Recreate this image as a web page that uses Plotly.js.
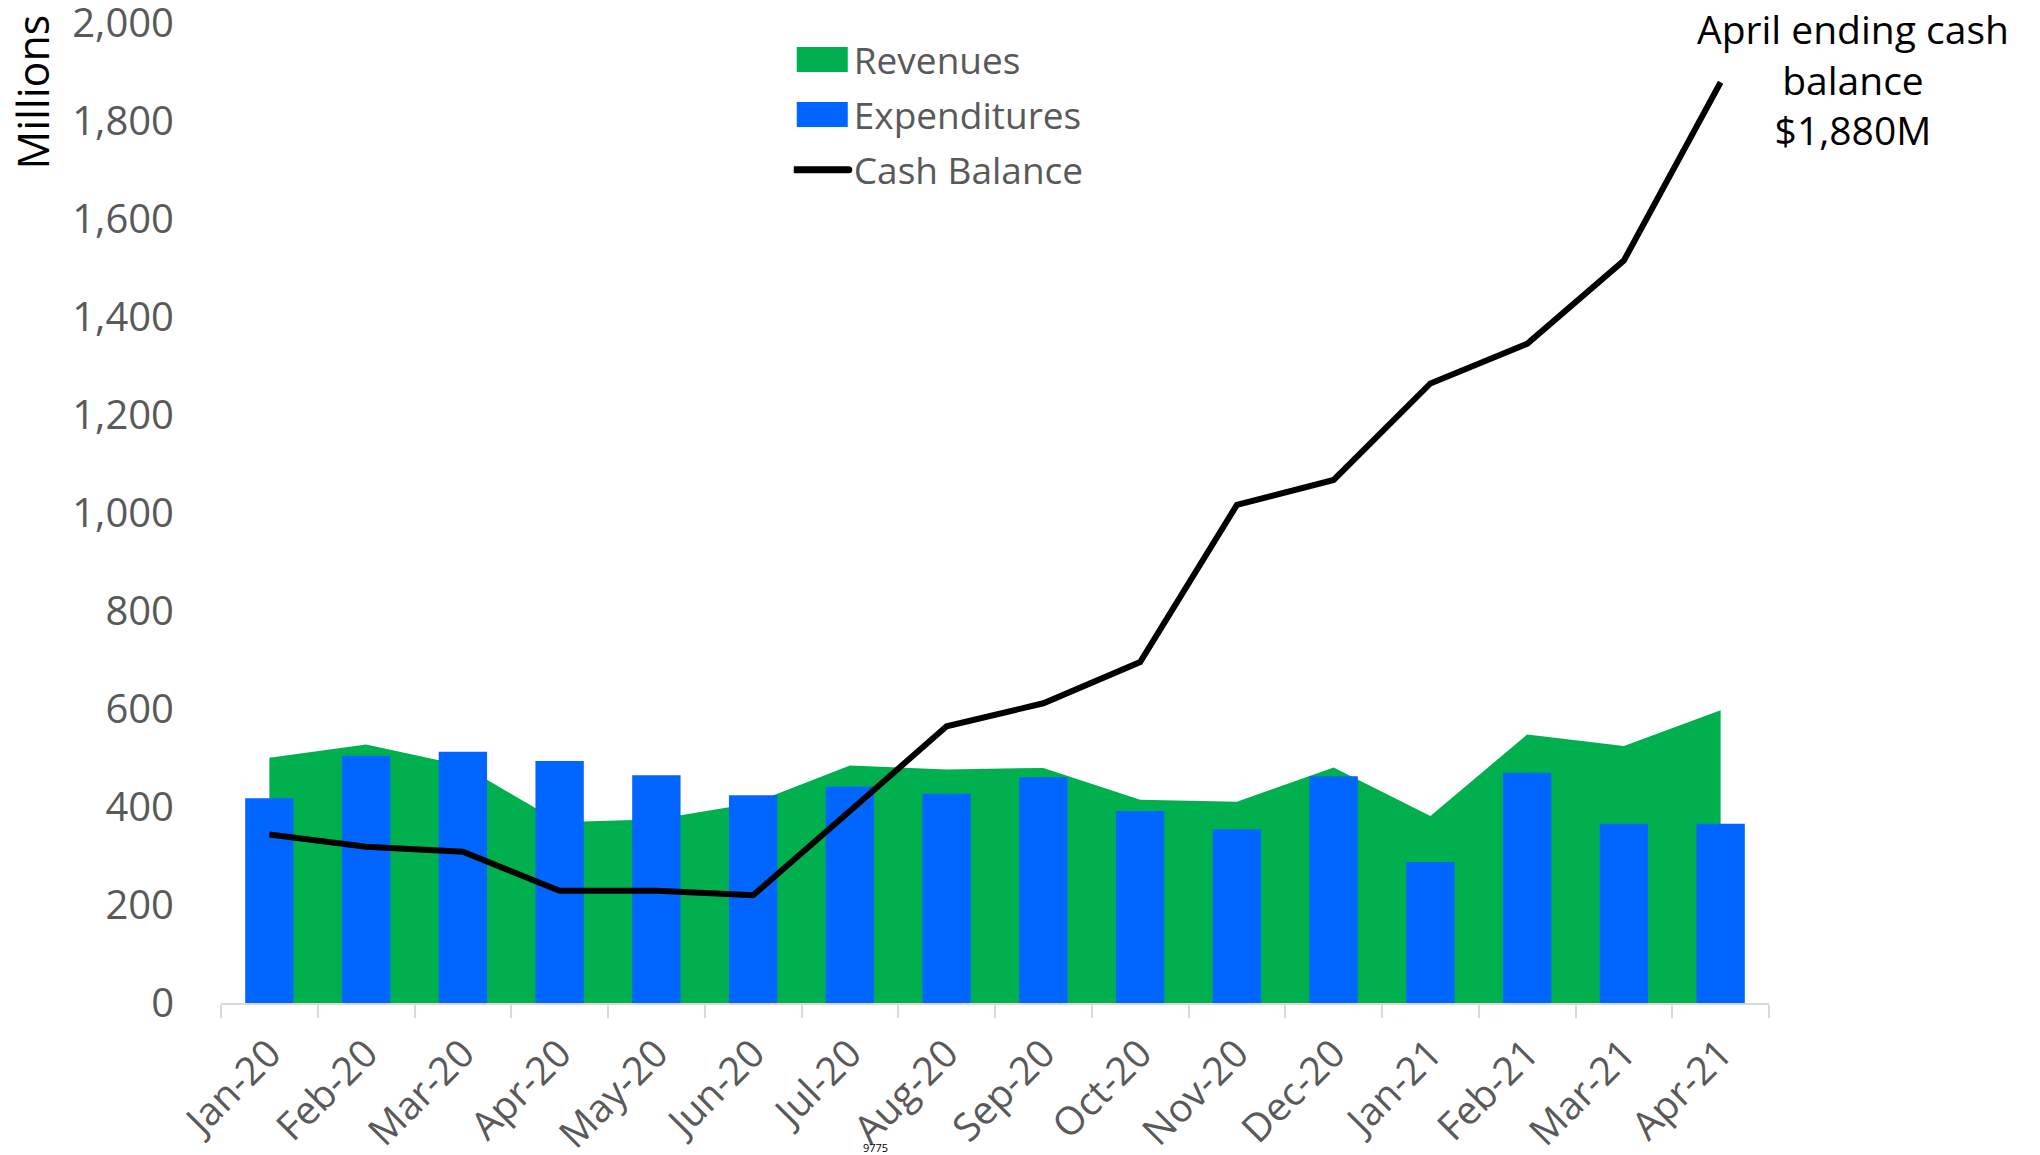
<!DOCTYPE html>
<html>
<head>
<meta charset="utf-8">
<script src="https://cdn.plot.ly/plotly-3.0.1.min.js"></script>
<style>
html,body{margin:0;padding:0;background:#fff;}
#chart{width:2040px;height:1155px;}
</style>
</head>
<body>
<div id="chart"></div>
<script>
const months = ["Jan-20","Feb-20","Mar-20","Apr-20","May-20","Jun-20","Jul-20","Aug-20","Sep-20","Oct-20","Nov-20","Dec-20","Jan-21","Feb-21","Mar-21","Apr-21"];
const revenues = [501, 528, 485, 369, 375, 408, 485, 477, 480, 415, 411, 481, 382, 548, 525, 598];
const expenditures = [418, 505, 513, 494, 465, 424, 442, 427, 461, 392, 355, 463, 288, 470, 366, 366];
const cashBalance = [344, 319, 309, 229, 229, 220, 392, 565, 612, 696, 1017, 1068, 1265, 1346, 1516, 1880];
const yTicks = [0, 200, 400, 600, 800, 1000, 1200, 1400, 1600, 1800, 2000];
const yTickText = ["0","200","400","600","800","1,000","1,200","1,400","1,600","1,800","2,000"];

const FONT = "'Open Sans', 'Noto Sans', sans-serif";
const GREY = "#595959";
const GREEN = "#00B04F";
const BLUE = "#0066FF";

const data = [
  {type:"scatter", x:months, y:revenues, name:"Revenues", mode:"lines",
   fill:"tozeroy", fillcolor:GREEN, line:{width:0, color:GREEN},
   xaxis:"x", yaxis:"y", legendgroup:"a", legendrank:1},
  {type:"bar", x:months, y:expenditures, name:"Expenditures",
   marker:{color:BLUE, line:{width:0}},
   xaxis:"x2", yaxis:"y2", legendgroup:"b", legendrank:2},
  {type:"scatter", x:months, y:cashBalance, name:"Cash Balance", mode:"lines",
   line:{color:"#000000", width:6},
   xaxis:"x2", yaxis:"y2", legendgroup:"c", legendrank:3}
];

const layout = {
  width:2040, height:1155,
  margin:{l:221, r:271, t:23, b:152},
  paper_bgcolor:"#ffffff", plot_bgcolor:"rgba(0,0,0,0)",
  showlegend:true,
  bargap:0.5,
  font:{family:FONT, color:GREY},
  xaxis:{type:"category", categoryorder:"array", categoryarray:months,
    range:[-0.5, 15.5], showgrid:false, zeroline:false,
    showline:true, linecolor:"#d9d9d9", linewidth:2,
    ticks:"outside", tickson:"boundaries", ticklen:13, tickcolor:"#d9d9d9", tickwidth:2,
    tickangle:-45, tickfont:{family:FONT, size:39, color:GREY}, ticklabelstandoff:10},
  xaxis2:{type:"category", categoryorder:"array", categoryarray:months,
    range:[-0.5, 15.5], overlaying:"x", visible:false},
  yaxis:{range:[0,2001], tickvals:yTicks, ticktext:yTickText, showgrid:false,
    zeroline:false, showline:false, ticks:"", ticklabelstandoff:46,
    ticklabeloverflow:"allow",
    tickfont:{family:FONT, size:40, color:GREY}},
  yaxis2:{range:[0,2001], overlaying:"y", visible:false},
  legend:{x:0.37, y:0.994, xanchor:"left", yanchor:"top",
    font:{family:FONT, size:37, color:GREY}, bgcolor:"rgba(0,0,0,0)",
    traceorder:"grouped", tracegroupgap:4, itemwidth:50},
  annotations:[
    {text:"April ending cash<br>balance<br>$1,880M", xref:"paper", yref:"paper",
     x:1.054, y:1.0235, xanchor:"center", yanchor:"top", showarrow:false,
     font:{family:FONT, size:39, color:"#000000"}, align:"center"},
    {text:"Millions", xref:"paper", yref:"paper", x:-0.1215, y:0.93,
     xanchor:"center", yanchor:"middle", textangle:-90, showarrow:false,
     font:{family:FONT, size:43, color:"#000000"}},
    {text:"9775", xref:"paper", yref:"paper", x:0.423, y:-0.138,
     xanchor:"center", yanchor:"top", showarrow:false,
     font:{family:FONT, size:11, color:"#000000"}}
  ]
};

Plotly.newPlot("chart", data, layout, {displayModeBar:false, staticPlot:true}).then(function(gd){
  // enlarge legend swatches to match reference look
  const groups = gd.querySelectorAll('.legend .traces');
  groups.forEach(function(g, i){
    const fill = g.querySelector('.legendfill path');
    const bar = g.querySelector('.legendpoints path');
    const line = g.querySelector('.legendlines path');
    if (i === 0 && fill) {
      fill.setAttribute('d', 'M3,-12.5h51v25h-51z');
      if (line) line.setAttribute('d', 'M3,0h0');
    } else if (i === 1 && bar) {
      bar.setAttribute('d', 'M-27,-12.5h51v25h-51z');
    } else if (i === 2 && line) {
      line.setAttribute('d', 'M1,0h54');
      line.style.strokeWidth = '7px';
      line.style.strokeLinecap = 'round';
    }
  });
});
</script>
</body>
</html>
